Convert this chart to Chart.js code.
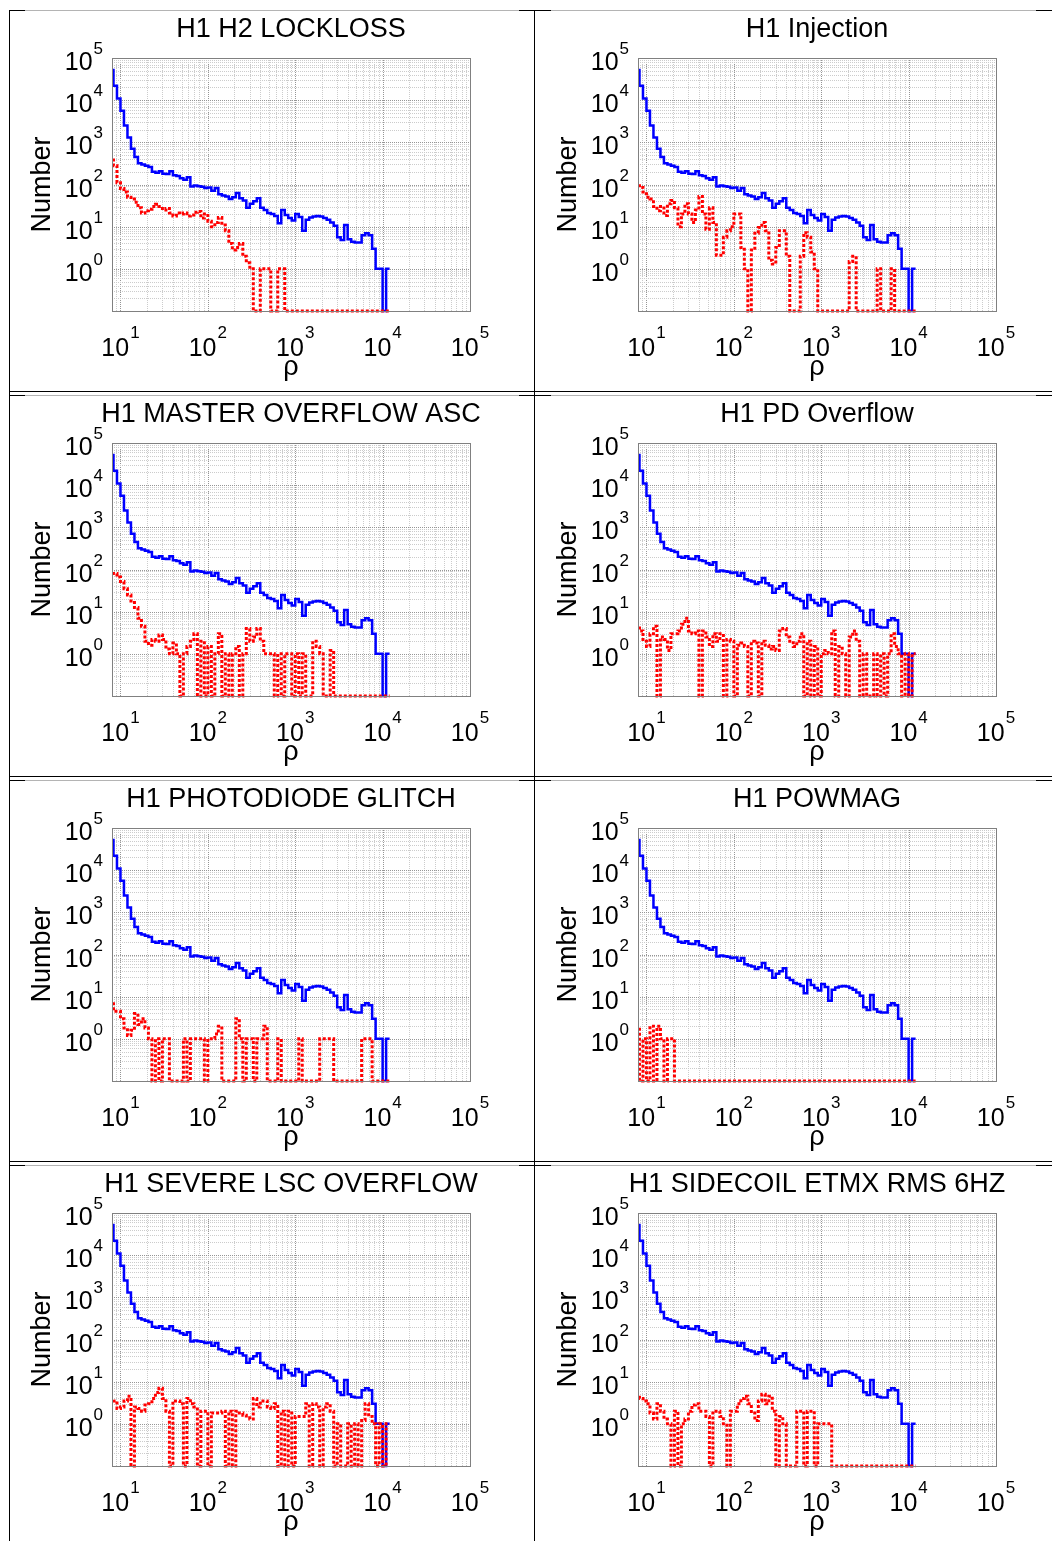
<!DOCTYPE html>
<html>
<head>
<meta charset="utf-8">
<script src="https://cdn.jsdelivr.net/npm/chart.js@4.4.1/dist/chart.umd.min.js"></script>
<style>
  body { margin: 0; background: #fff; }
  #page { position: relative; width: 1052px; height: 1541px; overflow: hidden; background: #fff; }
  .cell { position: absolute; }
  .rule { position: absolute; }
</style>
</head>
<body>
<div id="page"></div>
<script>
// Panel titles, in reading order
const titles = [
    'H1 H2 LOCKLOSS', 'H1 Injection',
    'H1 MASTER OVERFLOW ASC', 'H1 PD Overflow',
    'H1 PHOTODIODE GLITCH', 'H1 POWMAG',
    'H1 SEVERE LSC OVERFLOW', 'H1 SIDECOIL ETMX RMS 6HZ'
];

// Log-spaced rho bins: log10 of first edge and bin width
const binStart = 0.88;
const binWidth = 0.04;

// Axis tick exponents
const xTickExps = [1, 2, 3, 4, 5];
const yTickExps = [0, 1, 2, 3, 4, 5];

// All triggers (same in every panel)
const blueCounts = [
    52000, 22000, 11000, 5600, 2500, 1300, 700, 450, 320, 300,
    280, 260, 200, 190, 205, 180, 178, 205, 165, 160,
    140, 130, 148, 90, 95, 91, 89, 83, 85, 71,
    83, 59, 55, 52, 45, 50, 63, 47, 42, 28,
    35, 40, 47, 28, 25, 21, 20, 18, 12, 25,
    19, 16, 14, 20, 17, 8, 14.5, 16.5, 17.5, 18,
    17.5, 16, 14.5, 12.5, 10.5, 5.6, 4.8, 11, 5, 4.4,
    4.2, 4.2, 6.3, 7, 6.3, 3, 1, 1, 0, 1
];

// Triggers coincident with each veto
const redLockloss = [
    450, 280, 110, 80, 66, 50, 45, 38, 28, 21,
    24, 26, 30, 34, 30, 25, 27, 21, 18, 21,
    20, 21, 18, 19, 22, 23, 16, 20, 13.5, 10,
    12.5, 16.5, 11, 8, 4, 2.8, 3.2, 4, 2, 1.4,
    1, 0, 0, 1, 1, 1, 0, 0, 1, 1,
    0, 0, 0, 0, 0, 0, 0, 0, 0, 0,
    0, 0, 0, 0, 0, 0, 0, 0, 0, 0,
    0, 0, 0, 0, 0, 0, 0, 0, 0, 0
];
const redInjection = [
    110, 85, 66, 50, 45, 30, 24, 30, 18.5, 35,
    42, 28, 10, 20, 35, 20, 12.5, 25, 52, 20,
    8.7, 28, 12.5, 2.1, 2.1, 5.6, 8, 10, 20, 20,
    3.2, 1, 0, 2.8, 7, 9.5, 12.5, 8, 1.6, 1.3,
    3.2, 8, 8, 2, 0, 0, 0, 2, 7.2, 5.6,
    2.5, 1, 0, 0, 0, 0, 0, 0, 0, 0,
    0, 1.5, 2, 0, 0, 0, 0, 0, 0, 1,
    0, 0, 0, 1, 0, 0, 0, 0, 0, 0
];
const redMasterOverflow = [
    95, 80, 66, 52, 35, 25, 18, 12.5, 7, 4.5,
    2, 1.6, 2.2, 2, 2.8, 2.2, 1.3, 1, 1.8, 1,
    0, 1, 1.5, 2, 3, 0, 2, 0, 1.5, 0,
    1, 3, 0, 1, 0, 1, 1.5, 0, 1, 4,
    2, 2.5, 4, 2, 1, 1, 1, 0, 1, 0,
    1, 1, 0, 1, 0, 1, 0, 0, 2, 1.5,
    1, 0, 0, 1.2, 0, 0, 0, 0, 0, 0,
    0, 0, 0, 0, 0, 0, 0, 0, 0, 0
];
const redPdOverflow = [
    4.8, 3.5, 2, 1.5, 3, 4.5, 0, 2.5, 2.2, 1.2,
    3, 3, 3.5, 5, 7, 3.5, 3, 3.5, 0, 3.5,
    2.5, 1.5, 3, 2, 3, 0, 2.2, 2, 0, 1.6,
    1.8, 1.5, 0, 2, 1.8, 0, 2, 1.6, 1.3, 1.5,
    1.2, 3.5, 4, 2.5, 2, 1.5, 2, 3, 0, 2,
    0, 1.5, 0, 1, 1.2, 1, 3.5, 0, 1.5, 1,
    0, 2.5, 3.5, 2, 0, 1, 0, 0, 1, 0,
    1, 0, 1, 3, 1.5, 1, 0, 1, 0, 1
];
const redPhotodiode = [
    8, 4.5, 4.5, 3, 1.8, 1.2, 1.6, 4, 2.2, 3,
    1.8, 1, 0, 1, 0, 1, 1, 0, 0, 0,
    0, 1, 0, 1, 1, 1, 1, 0, 1, 1,
    1.3, 2, 0, 0, 0, 0, 3, 1, 0, 1,
    1, 0, 1, 1, 2, 0, 0, 0, 1, 0,
    0, 0, 0, 0, 1, 0, 0, 0, 0, 0,
    1, 1, 1, 1, 0, 0, 0, 0, 0, 0,
    0, 0, 1, 1, 1, 0, 0, 0, 0, 0
];
const redPowmag = [
    2, 0, 1, 0, 2, 0, 2, 1, 0, 1,
    1, 0, 0, 0, 0, 0, 0, 0, 0, 0,
    0, 0, 0, 0, 0, 0, 0, 0, 0, 0,
    0, 0, 0, 0, 0, 0, 0, 0, 0, 0,
    0, 0, 0, 0, 0, 0, 0, 0, 0, 0,
    0, 0, 0, 0, 0, 0, 0, 0, 0, 0,
    0, 0, 0, 0, 0, 0, 0, 0, 0, 0,
    0, 0, 0, 0, 0, 0, 0, 0, 0, 0
];
const redSevereLsc = [
    4, 3.5, 2.3, 2.5, 3.5, 4.5, 0, 2.5, 2.3, 2,
    2.8, 3, 4, 5.5, 7, 4, 2, 0, 3.5, 3.5,
    3, 0, 4, 3, 2.5, 0, 2, 2, 0, 1.8,
    1.8, 1.8, 2, 0, 2, 0, 2, 1.8, 1.6, 1.4,
    1.3, 4, 2.5, 3.5, 3.5, 2.5, 2.3, 3, 0, 2,
    0, 2, 0, 1.5, 1.5, 1.5, 3, 0, 3, 2.5,
    0, 2.5, 3, 2, 0, 1, 0, 0, 1, 0,
    1, 0, 1.2, 3, 1.5, 1, 0, 1, 0, 1
];
const redSidecoil = [
    5, 4, 3.5, 3, 1.8, 1.3, 3, 2, 1.3, 1,
    0, 2, 0, 1, 1.3, 2, 2.8, 3, 2, 2,
    1.5, 0, 2, 2, 1.5, 1, 0, 2, 2, 3,
    4, 4.5, 3, 1.8, 1.2, 3.5, 5, 3, 4.5, 2,
    0, 1.5, 1, 0, 0, 0, 2, 2, 0, 2,
    2, 0, 1, 1, 1, 1, 0, 0, 0, 0,
    0, 0, 0, 0, 0, 0, 0, 0, 0, 0,
    0, 0, 0, 0, 0, 0, 0, 0, 0, 0
];
const redCounts = [redLockloss, redInjection, redMasterOverflow, redPdOverflow,
    redPhotodiode, redPowmag, redSevereLsc, redSidecoil];

const FONT = '"Liberation Sans", Arial, Helvetica, sans-serif';

// bin edges in rho
const binEdges = [];
for (let k = 0; k <= blueCounts.length; k++) {
    binEdges.push(Math.pow(10, binStart + binWidth * k));
}

// histogram as stepped points, last bin closed at its right edge
function stepPoints(counts) {
    const pts = counts.map((c, i) => ({ x: binEdges[i], y: c }));
    pts.push({ x: binEdges[counts.length], y: counts[counts.length - 1] });
    return pts;
}

// "10" with a raised exponent
function drawPower(ctx, anchorX, baseY, supY, exp, align) {
    ctx.font = '25px ' + FONT;
    const w1 = ctx.measureText('10').width;
    ctx.font = '17px ' + FONT;
    const w2 = ctx.measureText(String(exp)).width;
    const total = w1 + w2 + 1;
    const left = align === 'center' ? anchorX - total / 2 : anchorX - total;
    ctx.textAlign = 'left';
    ctx.textBaseline = 'alphabetic';
    ctx.font = '25px ' + FONT;
    ctx.fillText('10', left, baseY);
    ctx.font = '17px ' + FONT;
    ctx.fillText(String(exp), left + w1 + 1, supY);
}

// Dotted log grid
const gridPlugin = {
    id: 'logGrid',
    beforeDatasetsDraw(chart) {
        const { ctx, chartArea: ca, scales: { x, y } } = chart;
        ctx.save();
        ctx.lineWidth = 1;
        ctx.setLineDash([1, 1]);
        for (let e = 0; e <= 4; e++) {
            for (let m = 1; m <= 9; m++) {
                const v = m * Math.pow(10, e);
                if (v <= x.min || v >= x.max) continue;
                const px = Math.round(x.getPixelForValue(v)) + 0.5;
                ctx.strokeStyle = m === 1 ? '#959595' : '#cccccc';
                ctx.beginPath();
                ctx.moveTo(px, ca.top);
                ctx.lineTo(px, ca.bottom);
                ctx.stroke();
            }
        }
        for (let e = -1; e <= 4; e++) {
            for (let m = 1; m <= 9; m++) {
                const v = m * Math.pow(10, e);
                if (v <= y.min || v >= y.max) continue;
                const py = Math.round(y.getPixelForValue(v)) + 0.5;
                ctx.strokeStyle = m === 1 ? '#959595' : '#cccccc';
                ctx.beginPath();
                ctx.moveTo(ca.left, py);
                ctx.lineTo(ca.right, py);
                ctx.stroke();
            }
        }
        ctx.restore();
    }
};

// Box, tick labels, axis titles and panel title
const textPlugin = {
    id: 'panelText',
    afterDatasetsDraw(chart, args, opts) {
        const { ctx, chartArea: ca, scales: { x, y } } = chart;
        ctx.save();
        ctx.strokeStyle = '#808080';
        ctx.lineWidth = 1;
        ctx.setLineDash([]);
        ctx.strokeRect(Math.round(ca.left) + 0.5, Math.round(ca.top) + 0.5,
            Math.round(ca.right - ca.left), Math.round(ca.bottom - ca.top));

        ctx.fillStyle = '#000';
        xTickExps.forEach(e => {
            drawPower(ctx, x.getPixelForValue(Math.pow(10, e)), ca.bottom + 45, ca.bottom + 27, e, 'center');
        });
        yTickExps.forEach(e => {
            const py = y.getPixelForValue(Math.pow(10, e));
            drawPower(ctx, ca.left - 9, py + 12, py - 4, e, 'right');
        });

        const midX = (ca.left + ca.right) / 2;
        ctx.textAlign = 'center';
        ctx.textBaseline = 'alphabetic';
        ctx.font = '27px ' + FONT;
        ctx.fillText(opts.title, midX, ca.top - 21);
        ctx.fillText('\u03C1', midX, ca.bottom + 64);

        ctx.save();
        ctx.translate(ca.left - 69, (ca.top + ca.bottom) / 2);
        ctx.rotate(-Math.PI / 2);
        ctx.textBaseline = 'middle';
        ctx.font = '27px ' + FONT;
        ctx.fillText('Number', 0, 0);
        ctx.restore();
        ctx.restore();
    }
};

// Page layout
const page = document.getElementById('page');
const colLeft = [10, 536];
const rowTop = [11, 396, 781, 1166];
const CW = 516, CH = 380;

function rule(x, y, w, h, color) {
    const d = document.createElement('div');
    d.className = 'rule';
    d.style.left = x + 'px';
    d.style.top = y + 'px';
    d.style.width = w + 'px';
    d.style.height = h + 'px';
    d.style.background = color;
    page.appendChild(d);
}

titles.forEach((title, i) => {
    const col = i % 2, row = Math.floor(i / 2);
    const div = document.createElement('div');
    div.className = 'cell';
    div.style.left = colLeft[col] + 'px';
    div.style.top = rowTop[row] + 'px';
    const canvas = document.createElement('canvas');
    canvas.width = CW;
    canvas.height = CH;
    div.appendChild(canvas);
    page.appendChild(div);

    new Chart(canvas.getContext('2d'), {
        type: 'line',
        data: {
            datasets: [
                {
                    label: 'vetoed',
                    data: stepPoints(redCounts[i]),
                    parsing: false,
                    borderColor: '#ff0000',
                    borderWidth: 3,
                    borderDash: [3, 2],
                    stepped: true,
                    pointRadius: 0,
                    fill: false,
                    clip: { left: 0, top: 0, right: 0, bottom: 2 }
                },
                {
                    label: 'all',
                    data: stepPoints(blueCounts),
                    parsing: false,
                    borderColor: '#0000ff',
                    borderWidth: 2.5,
                    stepped: true,
                    pointRadius: 0,
                    fill: false,
                    clip: { left: 0, top: 0, right: 0, bottom: 2 }
                }
            ]
        },
        options: {
            responsive: false,
            animation: false,
            devicePixelRatio: 1,
            layout: { padding: { left: 102, top: 47, right: 56, bottom: 80 } },
            plugins: {
                legend: { display: false },
                tooltip: { enabled: false },
                panelText: { title: title }
            },
            scales: {
                x: { type: 'logarithmic', min: 8, max: 100000, display: false },
                y: { type: 'logarithmic', min: 0.1, max: 100000, display: false }
            }
        },
        plugins: [gridPlugin, textPlugin]
    });
});

// Table rules round the panels
[10, 395, 780, 1165].forEach(y => {
    rule(9, y, 1043, 1, '#b4b4b4');
    rule(9, y, 16, 1, '#000');
    rule(519, y, 32, 1, '#000');
    rule(1036, y, 16, 1, '#000');
});
[391, 776, 1161].forEach(y => rule(9, y, 1043, 1, '#000'));
rule(9, 10, 1, 1531, '#000');
rule(534, 10, 1, 1531, '#000');
</script>
</body>
</html>
